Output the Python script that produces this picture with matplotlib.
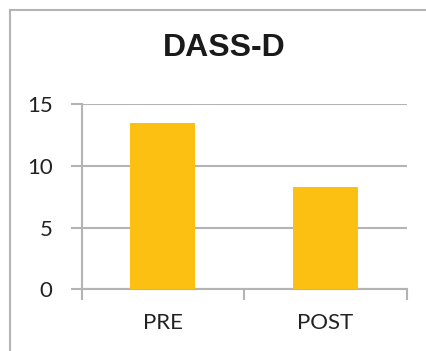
import matplotlib
matplotlib.use("Agg")
import matplotlib.pyplot as plt
from matplotlib.lines import Line2D

categories = ["PRE", "POST"]
values = [13.5, 8.3]
yticks = [0, 5, 10, 15]

W, H = 427, 351
fig = plt.figure(figsize=(W / 100, H / 100), dpi=100)
ax = fig.add_axes([81.7 / W, 1 - 289.3 / H, 325 / W, 185.3 / H])

grey = "#b4b4b4"
ax.bar(range(len(categories)), values, width=0.4, color="#fbc012", zorder=3)

ax.set_xlim(-0.5, len(categories) - 0.5)
ax.set_ylim(0, 15)
ax.set_yticks(yticks)
ax.set_yticklabels([str(t) for t in yticks])
ax.yaxis.grid(True, color=grey, linewidth=1.5, zorder=0)

# category labels sit between the boundary ticks
ax.set_xticks([-0.5, 0.5, 1.5])
ax.set_xticklabels([])
ax.set_xticks(range(len(categories)), minor=True)
ax.set_xticklabels(categories, minor=True)
ax.tick_params(axis="x", which="minor", length=0, pad=17)
ax.tick_params(axis="x", which="major", length=8, width=1.5, color=grey)
ax.tick_params(axis="y", length=8, width=1.5, color=grey, pad=13)

for lbl in ax.get_yticklabels() + ax.get_xticklabels(minor=True):
    lbl.set_fontfamily("Lato")
    lbl.set_fontsize(16)
    lbl.set_color("#222222")

for side in ["top", "right"]:
    ax.spines[side].set_visible(False)
for side in ["left", "bottom"]:
    ax.spines[side].set_color(grey)
    ax.spines[side].set_linewidth(1.5)

fig.text(224 / W, 1 - 48.5 / H, "DASS-D", ha="center", va="center",
         fontsize=23, fontweight="bold", family="Liberation Sans", color="#1a1a1a")

# outer chart frame (only left and top edges fall inside the image)
fig.add_artist(Line2D([10 / W, 10 / W], [0, 1 - 10 / H], color=grey, linewidth=1.5))
fig.add_artist(Line2D([10 / W, 1], [1 - 10 / H, 1 - 10 / H], color=grey, linewidth=1.5))

fig.savefig("out.png", dpi=100)
